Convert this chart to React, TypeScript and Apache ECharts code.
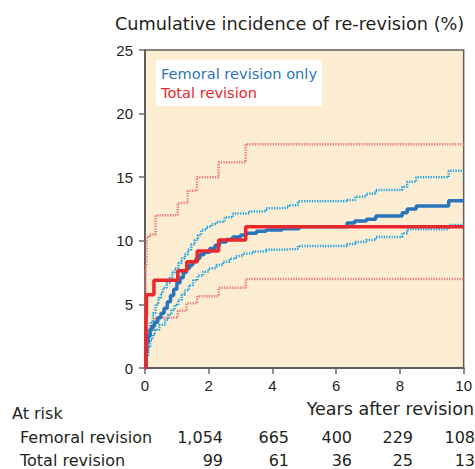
import React, { useEffect, useRef } from "react";
import * as echarts from "echarts";

const yTicks = [0, 5, 10, 15, 20, 25];
const xTicks = [0, 2, 4, 6, 8, 10];

const femoral: [number, number][] = [
  [0, 0], [0.03, 1.2], [0.06, 2.0], [0.1, 2.5], [0.16, 3.0], [0.22, 3.3], [0.3, 3.6], [0.4, 3.95],
  [0.5, 4.3], [0.6, 4.7], [0.7, 5.2], [0.8, 5.7], [0.9, 6.2], [1.0, 6.7], [1.1, 7.1], [1.2, 7.5],
  [1.3, 7.85], [1.4, 8.1], [1.5, 8.35], [1.6, 8.6], [1.72, 8.9], [1.85, 9.1], [2.03, 9.4], [2.2, 9.65],
  [2.34, 9.9], [2.55, 10.1], [2.75, 10.3], [3.0, 10.45], [3.18, 10.6], [3.5, 10.75], [3.8, 10.85],
  [4.3, 10.95], [4.84, 11.1], [6.34, 11.4], [6.58, 11.55], [6.95, 11.7], [7.24, 11.95], [8.07, 12.2],
  [8.23, 12.5], [8.51, 12.74], [9.53, 13.15], [10, 13.15],
];
const femoralUpper: [number, number][] = [
  [0, 0], [0.03, 2.0], [0.08, 3.0], [0.16, 3.6], [0.25, 4.3], [0.33, 5.0], [0.42, 5.5], [0.5, 5.9],
  [0.57, 6.3], [0.68, 6.7], [0.78, 7.1], [0.86, 7.5], [0.94, 7.85], [1.05, 8.25], [1.15, 8.6],
  [1.25, 8.95], [1.35, 9.3], [1.45, 9.7], [1.56, 10.06], [1.66, 10.45], [1.77, 10.85], [1.93, 11.1],
  [2.08, 11.3], [2.24, 11.5], [2.5, 11.85], [2.76, 12.15], [3.28, 12.3], [3.8, 12.55], [4.22, 12.6],
  [4.5, 12.8], [4.8, 13.1], [6.34, 13.2], [6.6, 13.47], [6.94, 13.7], [7.24, 14.0], [8.07, 14.25],
  [8.23, 14.65], [8.51, 15.0], [9.53, 15.5], [10, 15.5],
];
const femoralLower: [number, number][] = [
  [0, 0], [0.05, 1.0], [0.1, 1.7], [0.16, 2.2], [0.23, 2.6], [0.31, 3.0], [0.45, 3.4], [0.63, 3.8],
  [0.73, 4.2], [0.83, 4.55], [0.93, 4.95], [1.04, 5.35], [1.15, 5.75], [1.25, 6.1], [1.38, 6.5],
  [1.51, 6.9], [1.65, 7.25], [1.82, 7.57], [2.0, 7.85], [2.24, 8.1], [2.45, 8.35], [2.66, 8.6],
  [2.85, 8.8], [3.07, 9.0], [3.4, 9.15], [3.8, 9.3], [4.22, 9.35], [4.8, 9.6], [6.34, 9.75],
  [6.6, 9.9], [6.94, 10.06], [7.24, 10.3], [8.07, 10.6], [8.23, 10.9], [9.53, 11.25], [10, 11.25],
];
const total: [number, number][] = [
  [0, 0], [0.03, 3.0], [0.05, 5.75], [0.28, 6.9], [1.03, 7.65], [1.31, 8.36], [1.64, 9.2],
  [2.31, 10.06], [3.16, 11.1], [10, 11.1],
];
const totalUpper: [number, number][] = [
  [0, 0], [0.02, 8.0], [0.05, 10.3], [0.15, 10.5], [0.33, 12.0], [1.03, 12.97], [1.34, 13.94],
  [1.63, 15.0], [2.31, 16.17], [3.16, 17.6], [10, 17.6],
];
const totalLower: [number, number][] = [
  [0, 0], [0.03, 2.0], [0.05, 3.0], [0.3, 3.95], [1.03, 4.5], [1.31, 5.1], [1.64, 5.65],
  [2.31, 6.3], [3.16, 7.0], [10, 7.0],
];

const riskLabels = ["Femoral revision", "Total revision"];
const riskFemoral = ["1,054", "665", "400", "229", "108"];
const riskTotal = ["99", "61", "36", "25", "13"];

const titleText = "Cumulative incidence of re-revision (%)";
const xTitle = "Years after revision";
const legendNames = ["Femoral revision only", "Total revision"];

const BLUE = "#2a74bd";
const BLUE_CI = "#1fa6e4";
const RED = "#e8282c";
const RED_CI = "#f07a78";
const TEXT = "#231f20";
const FONT = "'DejaVu Sans', 'Liberation Sans', Arial, sans-serif";
const TICK_FONT = "'Liberation Sans', Arial, Helvetica, sans-serif";

export default function App() {
  const ref = useRef<HTMLDivElement>(null);
  useEffect(() => {
    if (!ref.current) return;
    const chart = echarts.init(ref.current, undefined, { renderer: "svg" });
    const gridLeft = 145, gridTop = 50, gridW = 320, gridH = 318;
    const colRight = [223, 289, 352, 413, 475];
    const dotted = (data: [number, number][], color: string, name: string) => ({
      type: "line", name, data, step: "end", symbol: "none",
      lineStyle: { color, width: 2.5, type: [1.3, 1.3] },
    });
    chart.setOption({
      animation: false,
      grid: {
        left: gridLeft, top: gridTop, width: gridW, height: gridH,
        show: true, backgroundColor: "#fdeed3", borderColor: "#5e5e5e", borderWidth: 1.5,
      },
      xAxis: {
        type: "value", min: 0, max: 10, interval: 2,
        axisLine: { show: true, lineStyle: { color: "#5e5e5e", width: 2 } },
        axisTick: { show: true, length: 6, lineStyle: { color: "#6a6a6a", width: 1.5 } },
        splitLine: { show: false },
        axisLabel: { color: TEXT, fontSize: 15, fontFamily: TICK_FONT, margin: 10,
          formatter: (v: number) => (xTicks.includes(v) ? String(v) : "") },
      },
      yAxis: {
        type: "value", min: 0, max: 25, interval: 5,
        axisLine: { show: true, lineStyle: { color: "#5e5e5e", width: 2 } },
        axisTick: { show: true, length: 6, lineStyle: { color: "#6a6a6a", width: 1.5 } },
        splitLine: { show: false },
        axisLabel: { color: TEXT, fontSize: 15, fontFamily: TICK_FONT, margin: 12,
          formatter: (v: number) => (yTicks.includes(v) ? String(v) : "") },
      },
      series: [
        dotted(totalUpper, RED_CI, "Total upper"),
        dotted(totalLower, RED_CI, "Total lower"),
        dotted(femoralUpper, BLUE_CI, "Femoral upper"),
        dotted(femoralLower, BLUE_CI, "Femoral lower"),
        { type: "line", name: legendNames[0], data: femoral, step: "end", symbol: "none",
          lineStyle: { color: BLUE, width: 3.5 } },
        { type: "line", name: legendNames[1], data: total, step: "end", symbol: "none",
          lineStyle: { color: RED, width: 3.5 } },
      ],
      graphic: [
        { type: "text", style: { text: titleText, x: 115, y: 24, textVerticalAlign: "middle", fill: TEXT, font: `17.7px ${FONT}` } },
        { type: "rect", shape: { x: 156, y: 60, width: 166, height: 46 }, style: { fill: "#ffffff" }, z: 10 },
        { type: "text", z: 11, style: { text: legendNames[0], x: 161, y: 73, textVerticalAlign: "middle", fill: BLUE, font: `14.6px ${FONT}` } },
        { type: "text", z: 11, style: { text: legendNames[1], x: 161, y: 92, textVerticalAlign: "middle", fill: RED, font: `14.6px ${FONT}` } },
        { type: "text", style: { text: "At risk", x: 12, y: 413, textVerticalAlign: "middle", fill: TEXT, font: `16px ${FONT}` } },
        { type: "text", style: { text: xTitle, x: 474, y: 409, textAlign: "right", textVerticalAlign: "middle", fill: TEXT, font: `17.5px ${FONT}` } },
        { type: "text", style: { text: riskLabels[0], x: 20, y: 437, textVerticalAlign: "middle", fill: TEXT, font: `16px ${FONT}` } },
        { type: "text", style: { text: riskLabels[1], x: 20, y: 460, textVerticalAlign: "middle", fill: TEXT, font: `16px ${FONT}` } },
        ...riskFemoral.map((t, i) => ({ type: "text", style: { text: t, x: colRight[i], y: 437, textAlign: "right", textVerticalAlign: "middle", fill: TEXT, font: `16px ${FONT}` } })),
        ...riskTotal.map((t, i) => ({ type: "text", style: { text: t, x: colRight[i], y: 460, textAlign: "right", textVerticalAlign: "middle", fill: TEXT, font: `16px ${FONT}` } })),
      ],
    });
    return () => chart.dispose();
  }, []);
  return <div ref={ref} style={{ position: "fixed", left: 0, top: 0, width: 475, height: 469, background: "#fff" }} />;
}
